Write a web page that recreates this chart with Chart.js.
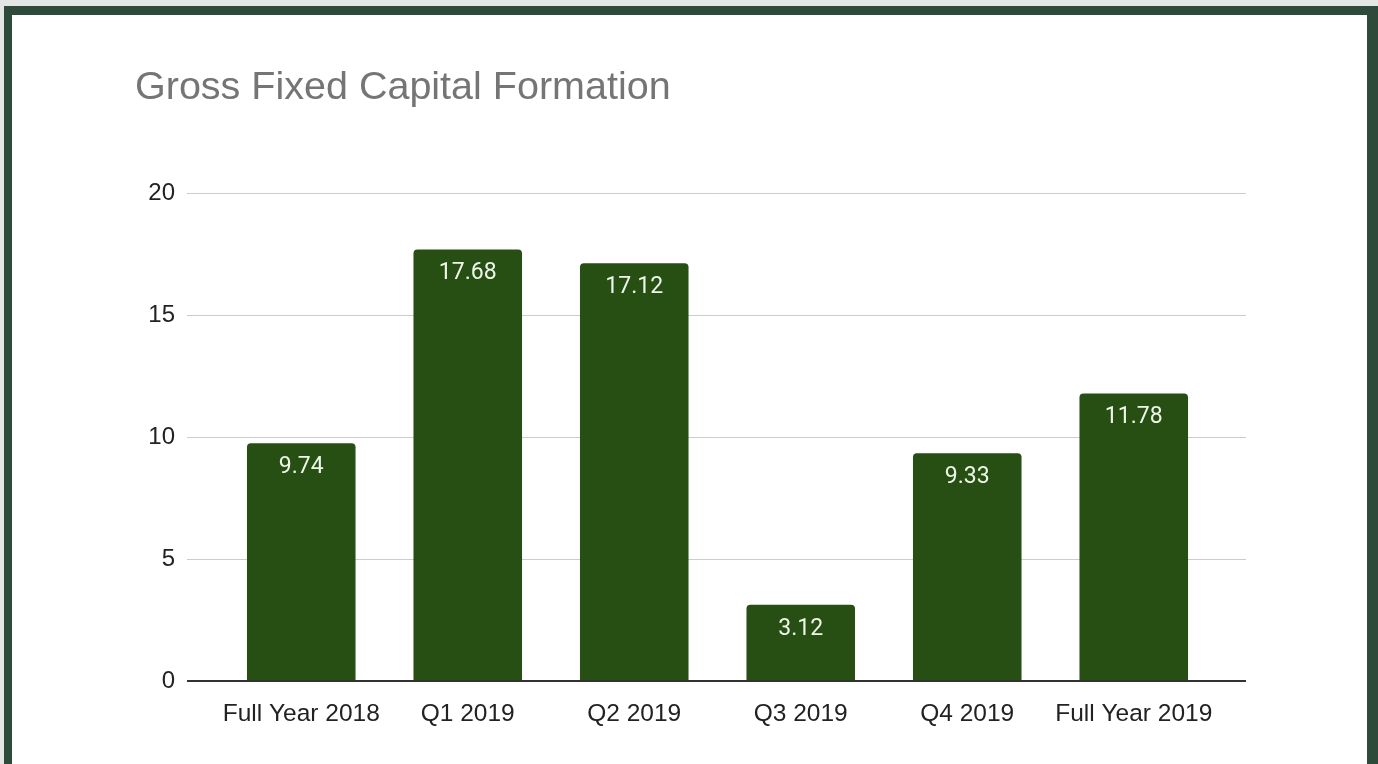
<!DOCTYPE html>
<html>
<head>
<meta charset="utf-8">
<script src="https://cdn.jsdelivr.net/npm/chart.js@4"></script>
<style>
    html, body { margin: 0; padding: 0; width: 1378px; height: 764px; overflow: hidden; background: #e4e6e5; }
    #frame { position: absolute; left: 4px; top: 6px; width: 1374px; height: 758px; background: #2e4a3b; }
    #panel { position: absolute; left: 12px; top: 15px; width: 1355px; height: 749px; background: #ffffff; }
    #chart { display: block; }
</style>
</head>
<body>
<div id="frame"></div>
<div id="panel"><canvas id="chart" width="1355" height="749"></canvas></div>
<script>
const chartTitle = 'Gross Fixed Capital Formation';
const categories = ['Full Year 2018', 'Q1 2019', 'Q2 2019', 'Q3 2019', 'Q4 2019', 'Full Year 2019'];
const values = [9.74, 17.68, 17.12, 3.12, 9.33, 11.78];
const yTicks = [0, 5, 10, 15, 20];

const barColor = '#274e13';
const gridColor = '#cccccc';
const axisColor = '#333333';
const labelFont = '"Liberation Sans", Arial, sans-serif';

// gridline colour: zero line is the dark axis
const lineColor = (c) => (c.tick && c.tick.value === 0 ? axisColor : gridColor);
const lineWidth = (c) => (c.tick && c.tick.value === 0 ? 2 : 1);

// title + value labels drawn on the canvas
const extras = {
    id: 'extras',
    afterDraw(chart) {
        const ctx = chart.ctx;
        ctx.save();
        ctx.fillStyle = '#757575';
        ctx.font = '39.5px ' + labelFont;
        ctx.textAlign = 'left';
        ctx.textBaseline = 'alphabetic';
        ctx.fillText(chartTitle, 123, 84);

        const meta = chart.getDatasetMeta(0);
        ctx.fillStyle = '#eef6e9';
        ctx.font = '23px Roboto, sans-serif';
        ctx.textAlign = 'center';
        ctx.textBaseline = 'middle';
        meta.data.forEach((bar, i) => {
            ctx.fillText(values[i].toFixed(2), bar.x, bar.y + 24);
        });
        ctx.restore();
    }
};

new Chart(document.getElementById('chart'), {
    type: 'bar',
    data: {
        labels: categories,
        datasets: [{
            data: values,
            backgroundColor: barColor,
            borderWidth: 0,
            borderRadius: 4,
            barPercentage: 0.652,
            categoryPercentage: 1,
        }]
    },
    options: {
        responsive: false,
        animation: false,
        layout: { padding: { top: 178, left: 0, right: 0, bottom: 0 } },
        scales: {
            x: {
                grid: { display: false },
                border: { display: false },
                ticks: {
                    color: '#222222',
                    font: { family: labelFont, size: 24.5 },
                    padding: 11,
                    maxRotation: 0,
                    autoSkip: false,
                },
                afterFit(scale) { scale.height = 83; }
            },
            y: {
                min: 0,
                max: 20,
                afterBuildTicks(scale) { scale.ticks = yTicks.map(v => ({ value: v })); },
                border: { display: false },
                grid: {
                    color: lineColor,
                    lineWidth: lineWidth,
                    tickColor: lineColor,
                    tickWidth: lineWidth,
                    tickLength: 31,
                },
                ticks: {
                    color: '#222222',
                    font: { family: labelFont, size: 24 },
                    padding: 12,
                },
                afterFit(scale) { scale.width = 206; }
            },
            yRight: {
                position: 'right',
                min: 0,
                max: 20,
                afterBuildTicks(scale) { scale.ticks = yTicks.map(v => ({ value: v })); },
                border: { display: false },
                grid: {
                    drawOnChartArea: false,
                    lineWidth: lineWidth,
                    tickColor: lineColor,
                    tickWidth: lineWidth,
                    tickLength: 29,
                },
                ticks: { display: false },
                afterFit(scale) { scale.width = 150; }
            }
        },
        plugins: {
            legend: { display: false },
            tooltip: { enabled: false },
            title: { display: false },
        }
    },
    plugins: [extras]
});
</script>
</body>
</html>
